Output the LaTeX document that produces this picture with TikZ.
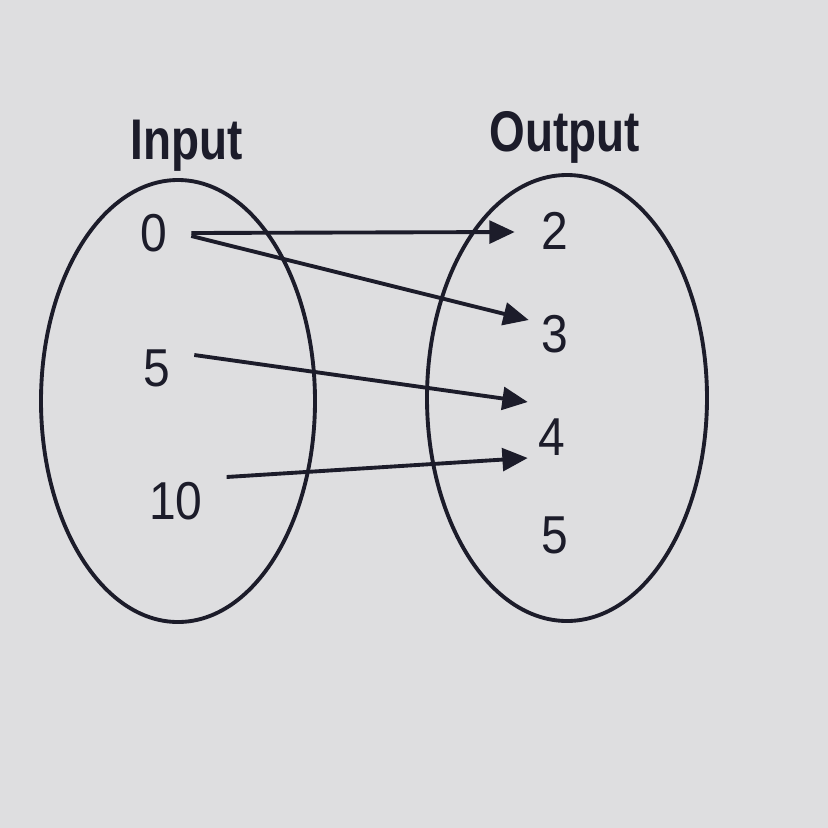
\documentclass[tikz,border=0pt]{standalone}
\usepackage{fontspec}
\setmainfont{Liberation Sans}
\usetikzlibrary{arrows.meta,calc}

\definecolor{ink}{RGB}{28,28,42}
\definecolor{paper}{RGB}{222,222,224}
\tikzset{every picture/.style={line width=2.9pt}}
\tikzset{
  setline/.style={draw=ink},
  maparrow/.style={draw=ink, -{Triangle[length=19pt,width=17pt]}},
  numlabel/.style={inner sep=0pt, text=ink, font=\fontsize{40}{40}\selectfont},
  headlabel/.style={inner sep=0pt, anchor=base, text=ink, font=\fontsize{43}{43}\selectfont\bfseries}
}
\newcommand{\narrow}[1]{\scalebox{0.9}[1]{#1}}

\begin{document}
\begin{tikzpicture}[x=0.75pt,y=0.75pt,yscale=-1,xscale=1]
	%Background
	\fill [paper] (0,0) rectangle (828,828);
	\useasboundingbox (0,0) rectangle (828,828);

	%Shape: Ellipse [input set]
	\draw [setline] (178,401) ellipse [x radius=137, y radius=221];
	%Shape: Ellipse [output set]
	\draw [setline] (567,398) ellipse [x radius=140, y radius=223];

	% Text Node
	\node [headlabel] (inhead) at (187,159) {\scalebox{0.8}[1]{Input}};
	\node [headlabel] (outhead) at (565,151) {\scalebox{0.8}[1]{Output}};

	% Text Node
	\node [numlabel] (in0) at (154,233) {\narrow{0}};
	\node [numlabel] (in5) at (157,368) {\narrow{5}};
	\node [numlabel] (in10) at (176,501) {\narrow{10}};
	\node [numlabel] (out2) at (555,231) {\narrow{2}};
	\node [numlabel] (out3) at (555,334) {\narrow{3}};
	\node [numlabel] (out4) at (552,437) {\narrow{4}};
	\node [numlabel] (out5) at (555,535) {\narrow{5}};

	%Straight Lines [mapping]
	\draw [maparrow] ($(in0.east)+(22,0)$) -- ($(out2.west)+(-25,1)$);
	\draw [maparrow] ($(in0.east)+(22,3)$) -- ($(out3.west)+(-11,-14)$);
	\draw [maparrow] ($(in5.east)+(22,-13)$) -- ($(out4.west)+(-9,-35)$);
	\draw [maparrow] ($(in10.east)+(22,-24)$) -- ($(out4.west)+(-9,21)$);

\end{tikzpicture}
\end{document}
